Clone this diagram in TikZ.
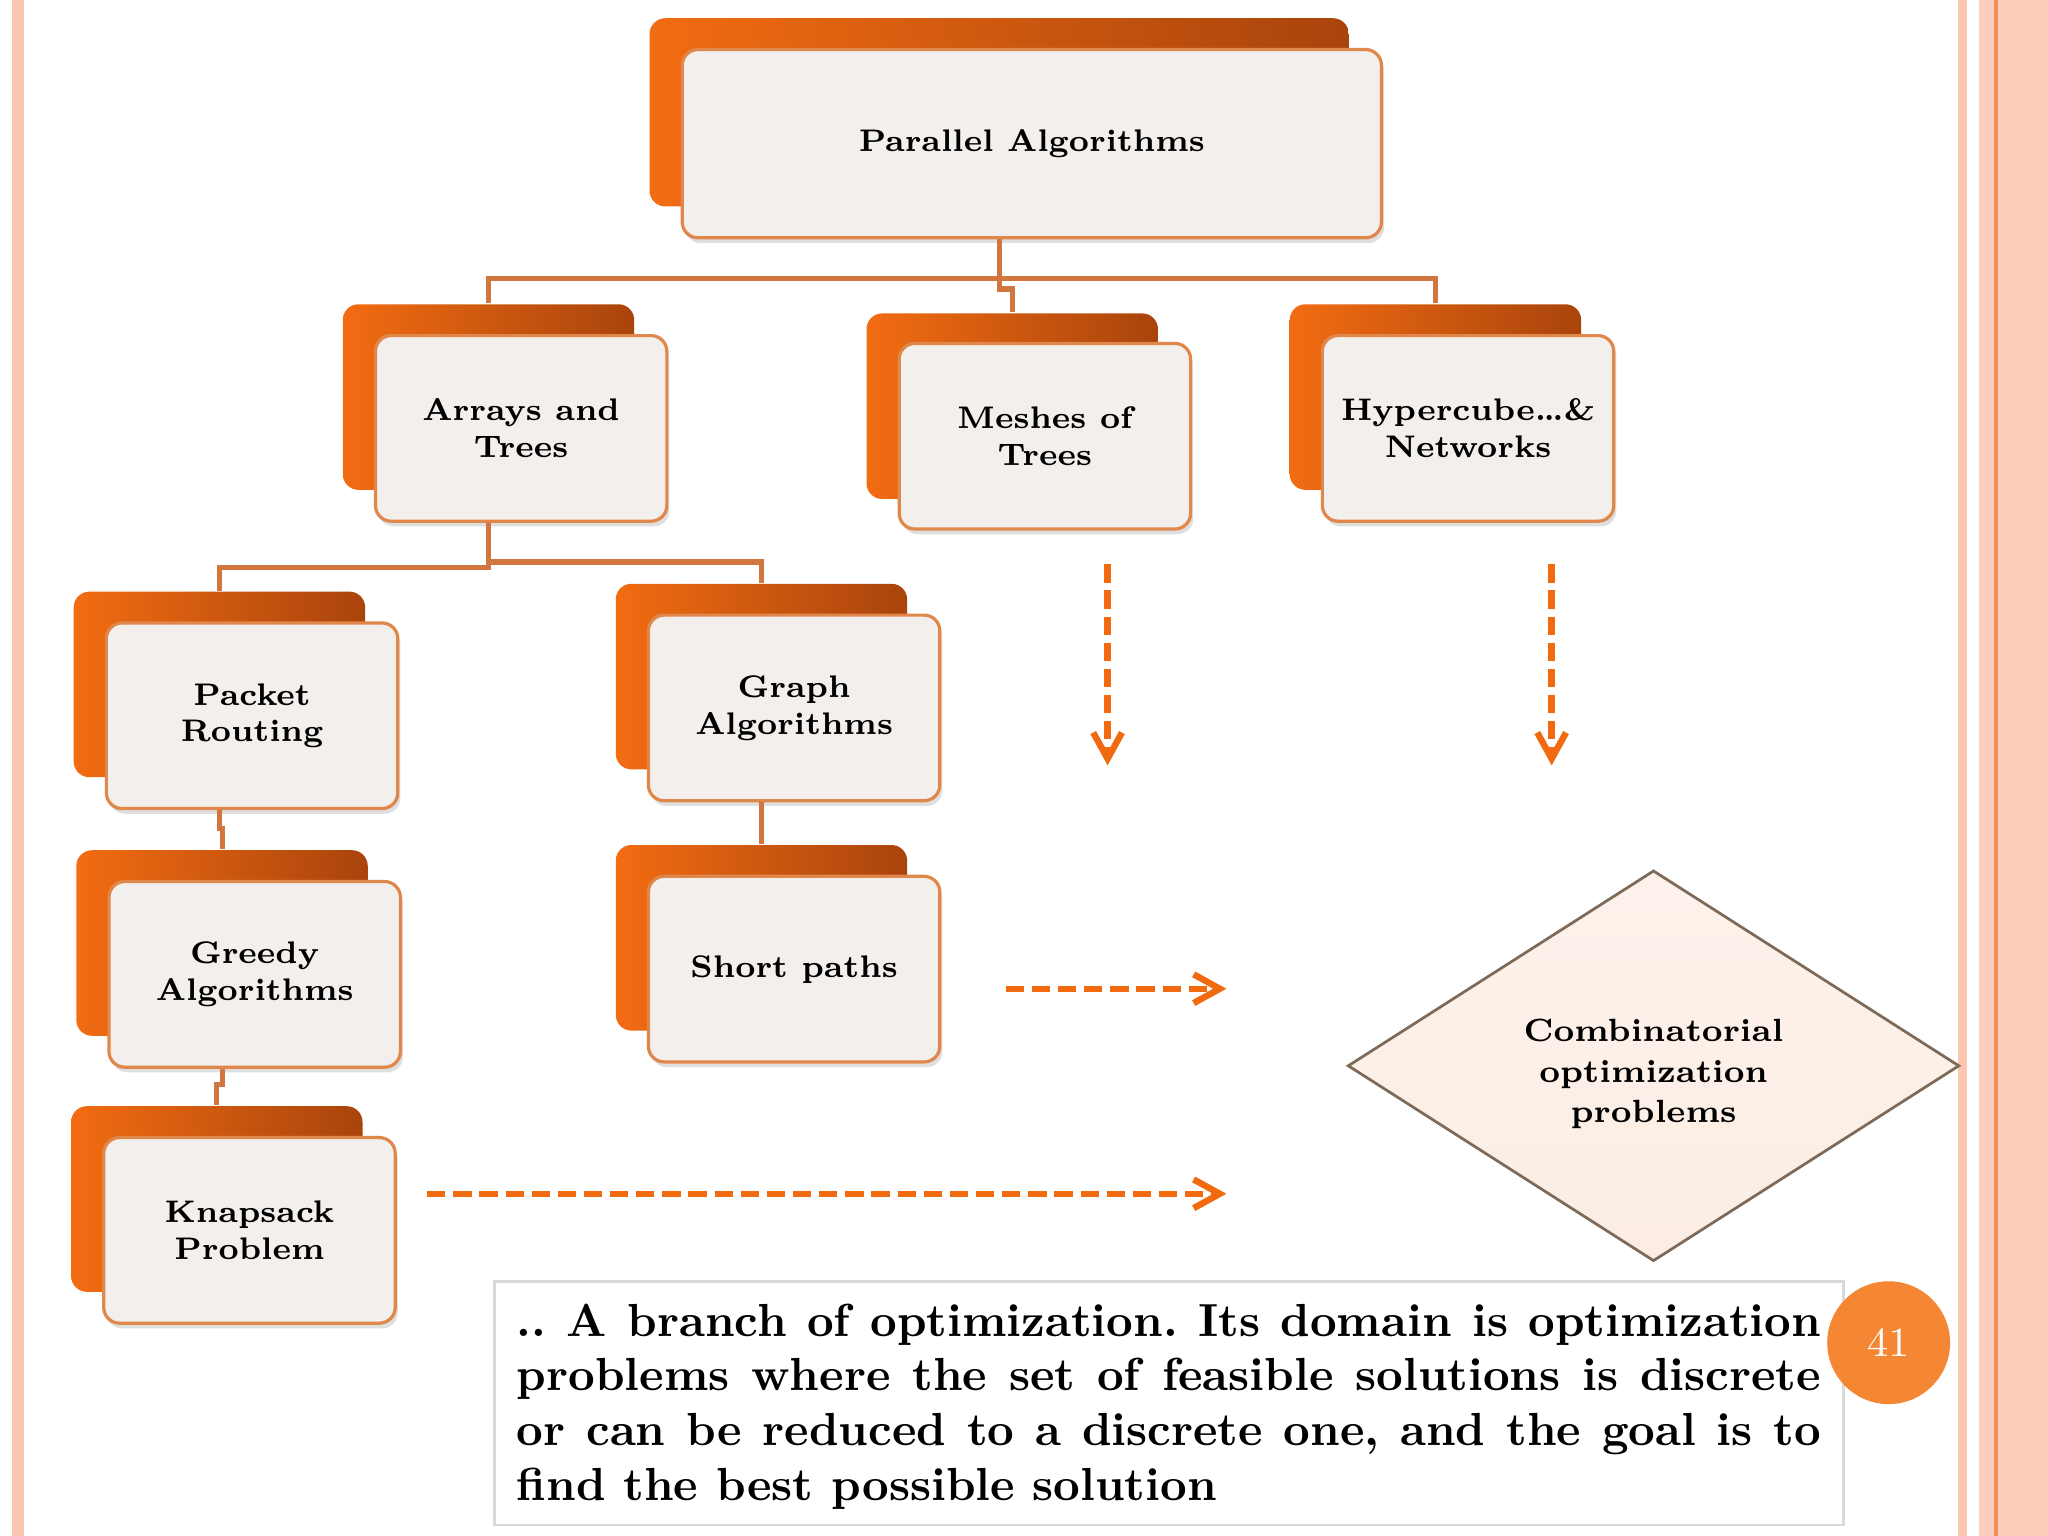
\documentclass[tikz,border=0pt]{standalone}
\usetikzlibrary{shadows,shapes.geometric,arrows.meta}

\definecolor{boxlight}{HTML}{F26C12}
\definecolor{boxmid}{HTML}{DD5E0E}
\definecolor{boxdark}{HTML}{A9440C}
\definecolor{boxface}{HTML}{F3EFEC}
\definecolor{boxline}{HTML}{E0874C}
\definecolor{linkcol}{HTML}{D2763F}
\definecolor{dashcol}{HTML}{F26A0F}
\definecolor{bandcol}{HTML}{FAC6AF}
\definecolor{bandline}{HTML}{F0905A}
\definecolor{diafill}{HTML}{FBEDE3}
\definecolor{diaedge}{HTML}{7D6A58}
\definecolor{pagecol}{HTML}{F58634}

\begin{document}
\begin{tikzpicture}[x=0.01cm, y=-0.01cm,
    backbox/.style={rounded corners=0.12cm, left color=boxlight, middle color=boxmid,
      right color=boxdark, minimum width=2.23cm, minimum height=1.42cm, inner sep=0pt},
    box/.style={draw=boxline, line width=0.7pt, fill=boxface, rounded corners=0.12cm,
      minimum width=2.23cm, minimum height=1.42cm, inner sep=0pt, align=center,
      font=\fontsize{6.8}{8}\selectfont\bfseries,
      drop shadow={opacity=0.25, shadow xshift=0.02cm, shadow yshift=-0.04cm}},
    link/.style={draw=linkcol, line width=1.1pt},
    dashline/.style={draw=dashcol, line width=1.4pt, dash pattern=on 0.14cm off 0.06cm,
      -{Straight Barb[length=0.2cm, width=0.22cm, line width=1.4pt]}},
    combo/.style={diamond, aspect=1.56, minimum width=4.68cm, minimum height=2.99cm,
      inner sep=0pt, draw=diaedge, line width=0.6pt, top color=diafill!70!white,
      bottom color=diafill, align=center, font=\fontsize{7}{8.8}\selectfont\bfseries},
    textbox/.style={draw=black!15, line width=0.6pt, text width=9.98cm, inner xsep=0.17cm,
      inner ysep=0.12cm, anchor=north, align=justify,
      font=\fontsize{10.1}{11.9}\selectfont\bfseries\frenchspacing},
    pagenum/.style={circle, fill=pagecol, minimum size=0.94cm, inner sep=0pt,
      text=white, font=\fontsize{9}{9}\selectfont}
  ]
  \useasboundingbox (0,0) rectangle (1568,1176);

  % slide borders
  \fill[bandcol] (9,0) rectangle (18,1176);
  \fill[bandcol] (1499,0) rectangle (1506,1176);
  \fill[bandcol!85!white] (1515,0) rectangle (1568,1176);
  \draw[bandline, line width=0.8pt] (1528,0) -- (1528,1176);

  % root
  \node[backbox, minimum width=5.35cm, minimum height=1.44cm] (parB) at (765,86) {};
  \node[box, minimum width=5.35cm, minimum height=1.44cm] (par) at (790,110) {Parallel Algorithms};

  % second row
  \node[backbox] (arrB) at (374,304) {};
  \node[box] (arr) at (399,328) {Arrays and\\Trees};
  \node[backbox] (meshB) at (775,311) {};
  \node[box] (mesh) at (800,334) {Meshes of\\Trees};
  \node[backbox] (hypB) at (1099,304) {};
  \node[box] (hyp) at (1124,328) {Hypercube\ldots\&\\Networks};

  % third row and below
  \node[backbox] (pktB) at (168,524) {};
  \node[box] (pkt) at (193,548) {Packet\\Routing};
  \node[backbox] (graphB) at (583,518) {};
  \node[box] (graph) at (608,542) {Graph\\Algorithms};
  \node[backbox] (greedyB) at (170,722) {};
  \node[box] (greedy) at (195,746) {Greedy\\Algorithms};
  \node[backbox] (shortB) at (583,718) {};
  \node[box] (short) at (608,742) {Short paths};
  \node[backbox] (knapB) at (166,918) {};
  \node[box] (knap) at (191,942) {Knapsack\\Problem};

  % tree links
  \draw[link] (par.south -| parB) -- ++(0,30) -| (arrB.north);
  \draw[link] (par.south -| parB) -- ++(0,30) -| (hypB.north);
  \draw[link] (par.south -| parB) -- ++(0,38) -| (meshB.north);
  \draw[link] (arr.south -| arrB) -- ++(0,34) -| (pktB.north);
  \draw[link] (arr.south -| arrB) -- ++(0,30) -| (graphB.north);
  \draw[link] (pkt.south -| pktB) -- ++(0,14) -| (greedyB.north);
  \draw[link] (greedy.south -| greedyB) -- ++(0,12) -| (knapB.north);
  \draw[link] (graph.south -| graphB) -- (shortB.north);

  % goal
  \node[combo] (comb) at (1266,816) {\rule{0pt}{0.3cm}Combinatorial\\optimization\\problems};

  % dashed arrows
  \coordinate (m1) at (848,432);
  \coordinate (m2) at (848,586);
  \coordinate (h1) at (1188,432);
  \coordinate (h2) at (1188,586);
  \coordinate (s1) at (770,757);
  \coordinate (s2) at (939,757);
  \coordinate (k1) at (327,914);
  \coordinate (k2) at (939,914);
  \draw[dashline] (m1) -- (m2);
  \draw[dashline] (h1) -- (h2);
  \draw[dashline] (s1) -- (s2);
  \draw[dashline] (k1) -- (k2);

  % definition and page number
  \node[textbox] (defn) at (895,980) {\rule{0pt}{0.3cm}.. A branch of optimization. Its domain is optimization\linebreak
    problems where the set of feasible solutions is discrete\linebreak
    or can be reduced to a discrete one, and the goal is to\linebreak
    find the best possible solution};
  \node[pagenum] (pg) at (1446,1028) {41};
\end{tikzpicture}
\end{document}
